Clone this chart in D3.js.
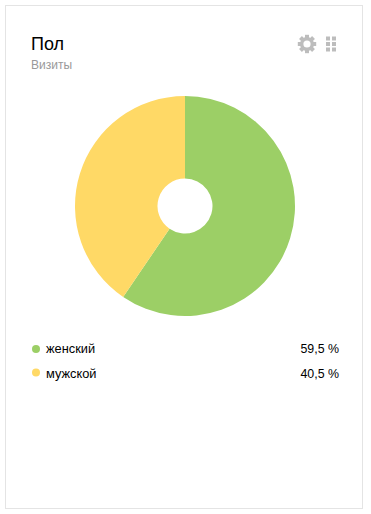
<!DOCTYPE html>
<html><head><meta charset="utf-8">
<script src="https://cdn.jsdelivr.net/npm/d3@7/dist/d3.min.js"></script>
<style>html,body{margin:0;padding:0;background:#fff}svg{display:block}text{font-family:"Liberation Sans",Arial,sans-serif}</style>
</head><body><svg id="c" width="371" height="514"></svg>
<script>
const categories = ["женский","мужской"];
const values = [59.5,40.5];
const valueLabels = ["59,5 %","40,5 %"];
const colors = ["#9ccf66","#ffd966"];
const title = "Пол";
const subtitle = "Визиты";

const svg = d3.select("#c");
svg.append("rect").attr("x",5.5).attr("y",5.5).attr("width",357).attr("height",503)
  .attr("fill","#fff").attr("stroke","#e4e4e4");
svg.append("text").attr("x",31).attr("y",50).attr("font-size",18).attr("fill","#000").text(title);
svg.append("text").attr("x",31).attr("y",69).attr("font-size",12).attr("fill","#999").text(subtitle);

// gear icon
const gear = svg.append("g").attr("transform","translate(307,44)").attr("fill","#bdbdbd");
d3.range(8).forEach(i=>gear.append("rect").attr("x",-2).attr("y",-9.2).attr("width",4).attr("height",4.5)
  .attr("transform",`rotate(${i*45})`));
gear.append("path").attr("fill-rule","evenodd")
  .attr("d",d3.arc()({innerRadius:3.6,outerRadius:7,startAngle:0,endAngle:2*Math.PI}));

// grid icon
const gx=d3.scalePoint().domain([0,1]).range([326,332]);
const gy=d3.scalePoint().domain([0,1,2]).range([36.5,47.5]);
gy.domain().forEach(r=>gx.domain().forEach(c=>svg.append("rect")
  .attr("x",gx(c)).attr("y",gy(r)).attr("width",4).attr("height",4).attr("fill","#bdbdbd")));

// donut
const pie=d3.pie().sort(null).value(d=>d);
const arc=d3.arc().innerRadius(27.5).outerRadius(110);
svg.append("g").attr("transform","translate(185,206)").selectAll("path").data(pie(values)).join("path")
  .attr("d",arc).attr("fill",(d,i)=>colors[i]);

// legend
const y=d3.scalePoint().domain(categories).range([348,372.5]);
const rows=svg.append("g").selectAll("g").data(categories).join("g");
rows.append("circle").attr("cx",36).attr("cy",d=>y(d)+1-(d===categories[1]?1:0)).attr("r",4).attr("fill",(d,i)=>colors[i]);
rows.append("text").attr("x",46).attr("y",d=>y(d)+5).attr("font-size",12.8).attr("fill","#000").text(d=>d);
rows.append("text").attr("x",339).attr("y",d=>y(d)+5).attr("font-size",12.4).attr("fill","#000").attr("text-anchor","end").text((d,i)=>valueLabels[i]);
</script></body></html>
